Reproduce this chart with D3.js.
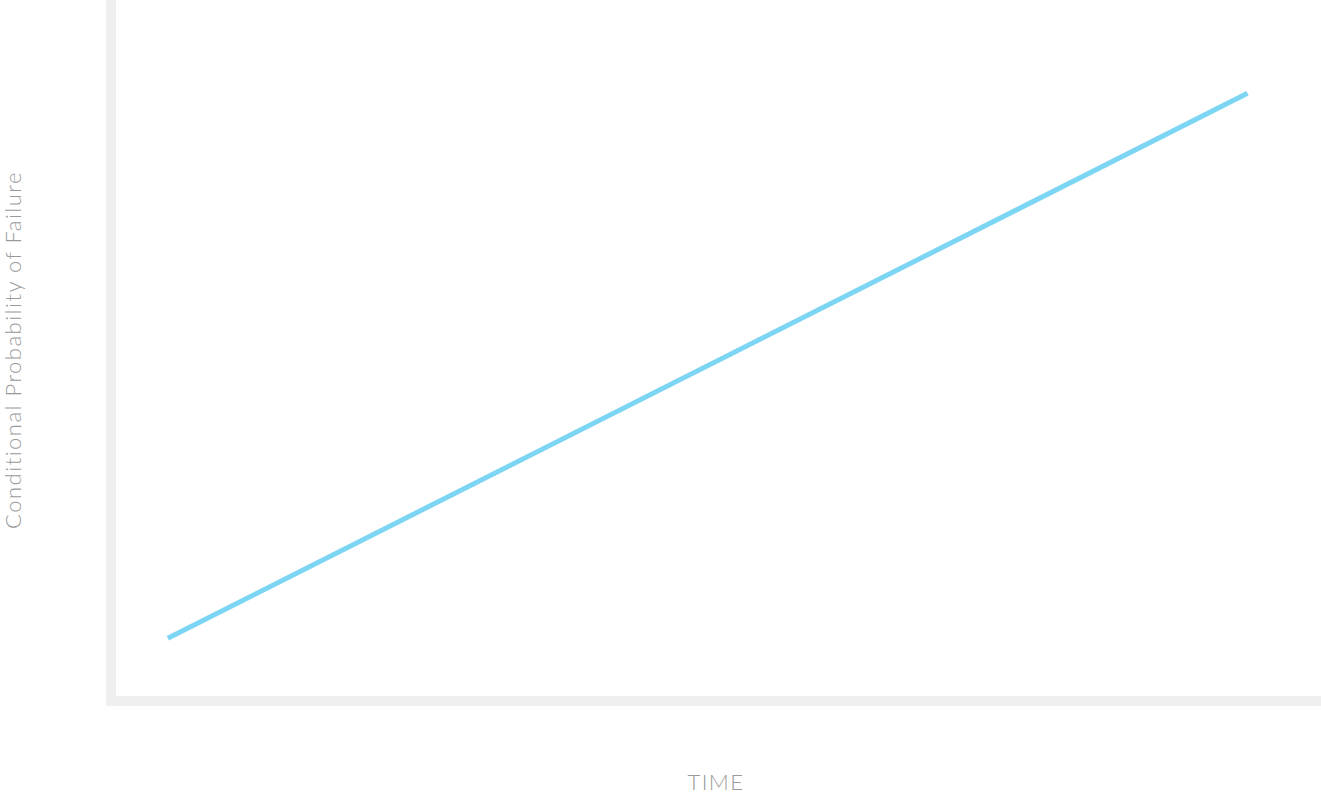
<!DOCTYPE html>
<html><head><meta charset="utf-8">
<script src="https://cdn.jsdelivr.net/npm/d3@7"></script>
<style>html,body{margin:0;padding:0;background:#fff;overflow:hidden}</style>
</head><body>
<svg id="chart" width="1321" height="794"></svg>
<script>
const times = [4.3, 93.9];
const probability = [8.3, 86.6];
const xLabel = "TIME";
const yLabel = "Conditional Probability of Failure";

const svg = d3.select("#chart");
const W = 1321, H = 794;
const m = {left: 116, top: 0, right: 0, bottom: 98};
const x = d3.scaleLinear().domain([0, 100]).range([m.left, W - m.right]);
const y = d3.scaleLinear().domain([0, 100]).range([H - m.bottom, m.top]);

const axisColor = "#efefef";
svg.append("line").attr("x1", x(0) - 5).attr("x2", x(0) - 5)
  .attr("y1", 0).attr("y2", y(0) + 10)
  .attr("stroke", axisColor).attr("stroke-width", 10);
svg.append("line").attr("x1", x(0) - 10).attr("x2", x(100))
  .attr("y1", y(0) + 5).attr("y2", y(0) + 5)
  .attr("stroke", axisColor).attr("stroke-width", 10);

const data = times.map((t, i) => ({t, p: probability[i]}));
svg.append("path").datum(data)
  .attr("d", d3.line().x(d => x(d.t)).y(d => y(d.p)))
  .attr("fill", "none").attr("stroke", "#7dd5f4").attr("stroke-width", 5);

svg.append("text").text(xLabel)
  .attr("x", 716).attr("y", 790)
  .attr("text-anchor", "middle")
  .style("font-family", "Lato").style("font-weight", 300)
  .style("font-size", "22px").style("letter-spacing", "1.5px")
  .attr("fill", "#9a9a9a");

svg.append("text").text(yLabel)
  .attr("transform", "translate(21,350) rotate(-90)")
  .attr("text-anchor", "middle")
  .style("font-family", "Lato").style("font-weight", 300)
  .style("font-size", "22px").style("letter-spacing", "1.5px")
  .attr("fill", "#9a9a9a");
</script>
</body></html>
